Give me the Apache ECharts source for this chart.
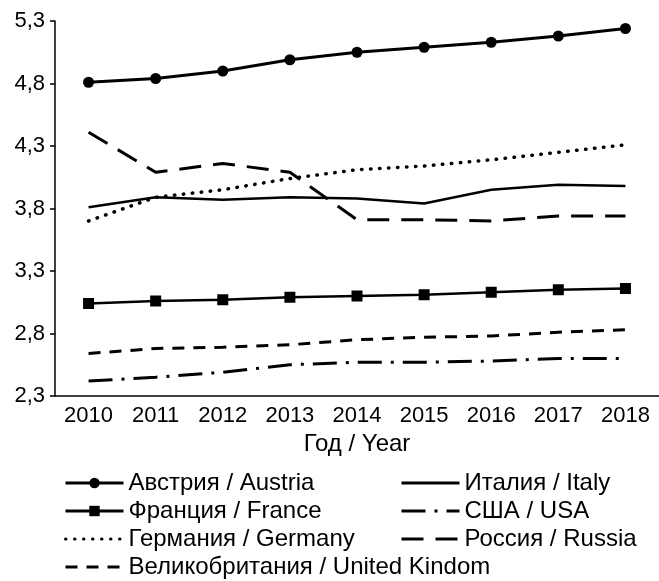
<!DOCTYPE html>
<html>
<head>
<meta charset="utf-8">
<script src="https://cdn.jsdelivr.net/npm/echarts@6/dist/echarts.min.js"></script>
<style>
    html, body { margin: 0; padding: 0; background: #fff; }
    #chart { width: 659px; height: 581px; }
</style>
</head>
<body>
<div id="chart"></div>
<script>
    // данные с графика
    const years = ['2010', '2011', '2012', '2013', '2014', '2015', '2016', '2017', '2018']
    const yTicks = [2.3, 2.8, 3.3, 3.8, 4.3, 4.8, 5.3]

    const austria = [4.81, 4.84, 4.90, 4.99, 5.05, 5.09, 5.13, 5.18, 5.24]
    const france = [3.04, 3.06, 3.07, 3.09, 3.10, 3.11, 3.13, 3.15, 3.16]
    const germany = [3.70, 3.89, 3.95, 4.04, 4.11, 4.14, 4.19, 4.25, 4.31]
    const uk = [2.64, 2.68, 2.69, 2.71, 2.75, 2.77, 2.78, 2.81, 2.83]
    const italy = [3.81, 3.89, 3.87, 3.89, 3.88, 3.84, 3.95, 3.99, 3.98]
    const usa = [2.42, 2.45, 2.49, 2.55, 2.57, 2.57, 2.58, 2.60, 2.60]
    const russia = [4.41, 4.09, 4.16, 4.09, 3.71, 3.71, 3.70, 3.74, 3.74]

    const font = '"Liberation Sans", Arial, sans-serif'

    function line(name, data, lineStyle, symbol, symbolSize) {
        return {
            name: name,
            type: 'line',
            data: data,
            symbol: symbol || 'none',
            symbolSize: symbolSize || 0,
            showSymbol: !!symbol,
            itemStyle: { color: '#000' },
            lineStyle: Object.assign({ color: '#000', width: 3 }, lineStyle),
            emphasis: { disabled: true },
            animation: false
        }
    }

    // пункт легенды; у линий без маркеров кружок прячем
    function item(name, marker) {
        return {
            name: name,
            itemStyle: { opacity: marker ? 1 : 0 },
            lineStyle: { width: 3 }
        }
    }

    const legendCommon = {
        orient: 'vertical',
        top: 471,
        padding: 0,
        itemWidth: 58,
        itemHeight: 13,
        itemGap: 4,
        selectedMode: false,
        textStyle: { fontFamily: font, fontSize: 24, color: '#000', lineHeight: 24 }
    }

    const myChart = echarts.init(document.getElementById('chart'))

    const option = {
        backgroundColor: '#fff',
        animation: false,
        grid: {
            left: 55,
            top: 21,
            width: 606,
            height: 375
        },
        legend: [
            Object.assign({}, legendCommon, {
                left: 64,
                data: [
                    item('Австрия / Austria', true),
                    item('Франция / France', true),
                    item('Германия / Germany'),
                    item('Великобритания / United Kindom')
                ]
            }),
            Object.assign({}, legendCommon, {
                left: 400,
                data: [item('Италия / Italy'), item('США / USA'), item('Россия / Russia')]
            })
        ],
        xAxis: {
            type: 'category',
            data: years,
            name: 'Год / Year',
            nameLocation: 'middle',
            nameGap: 34,
            nameTextStyle: { fontFamily: font, fontSize: 24, color: '#000' },
            axisLine: { lineStyle: { color: '#000', width: 1.5 } },
            axisTick: { alignWithLabel: true, length: 5, lineStyle: { color: '#000', width: 1.5 } },
            axisLabel: { fontFamily: font, fontSize: 22, color: '#000', margin: 9 },
            splitLine: { show: false }
        },
        yAxis: {
            type: 'value',
            min: yTicks[0],
            max: yTicks[yTicks.length - 1],
            interval: 0.5,
            axisLine: { show: true, lineStyle: { color: '#000', width: 1.5 } },
            axisTick: { show: true, length: 5, lineStyle: { color: '#000', width: 1.5 } },
            axisLabel: {
                fontFamily: font, fontSize: 22, color: '#000', margin: 10,
                formatter: v => v.toFixed(1).replace('.', ',')
            },
            splitLine: { show: false }
        },
        series: [
            line('Австрия / Austria', austria, { width: 3 }, 'circle', 11),
            line('Франция / France', france, { width: 2.5 }, 'rect', 11),
            line('Германия / Germany', germany, { width: 3.5, type: [0.5, 8.5], cap: 'round' }),
            line('Великобритания / United Kindom', uk, { width: 3, type: [12, 9] }),
            line('Италия / Italy', italy, { width: 2.5 }),
            line('США / USA', usa, { width: 3, type: [24, 9, 3, 9] }),
            line('Россия / Russia', russia, { width: 3, type: [22, 12] })
        ]
    }

    myChart.setOption(option)
</script>
</body>
</html>
